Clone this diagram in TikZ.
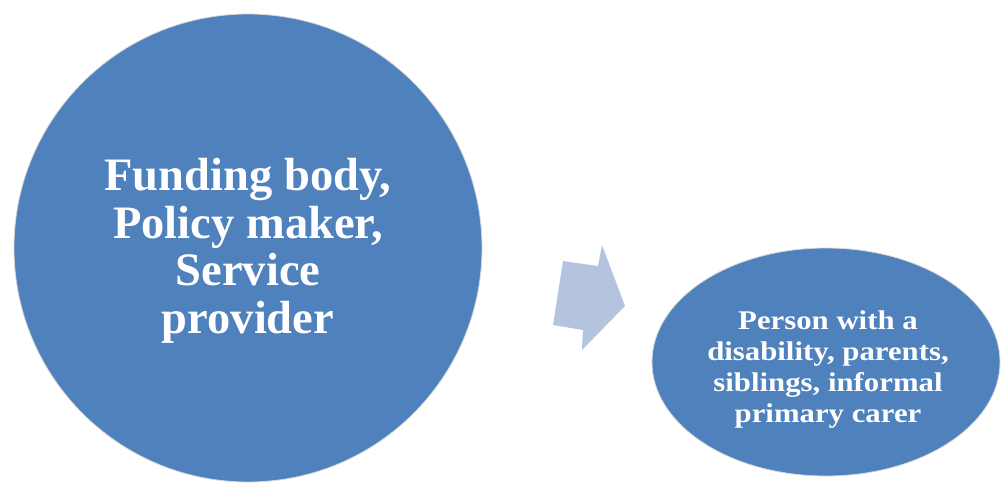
\documentclass[tikz,border=0pt]{standalone}
\usepackage{fontspec}
\setmainfont{Liberation Serif}
\usetikzlibrary{shapes.geometric}
\definecolor{bluefill}{HTML}{4F81BD}
\definecolor{arrowfill}{HTML}{B4C4DF}
\definecolor{rimgray}{HTML}{D8D8D8}
\tikzset{
  bubble/.style={fill=bluefill, draw=rimgray, line width=0.8pt, inner sep=0pt},
  bubbletext/.style={text=white, align=center, inner sep=0pt},
  blockarrow/.style={fill=arrowfill, draw=none}
}
\begin{document}
\begin{tikzpicture}[x=1pt,y=-1pt]
\useasboundingbox (0,0) rectangle (1001,482);
\node[bubble, circle, minimum size=468pt] (src) at (248,248) {};
\node[bubbletext, font=\bfseries\fontsize{46.5}{47.5}\selectfont] (srctext) at (248,251)
  {Funding body,\\ Policy maker,\\ Service\\ provider};
\node[bubble, ellipse, minimum width=348pt, minimum height=228pt] (dst) at (826,362) {};
\node[bubbletext] (dsttext) at (828,370)
  {\scalebox{1.14}[1]{\bfseries\fontsize{27}{31}\selectfont\begin{tabular}{@{}c@{}}Person with a\\ disability, parents,\\ siblings, informal\\ primary carer\end{tabular}}};
\coordinate (a1) at (602,245);
\coordinate (a2) at (598,266);
\coordinate (a3) at (563,261);
\coordinate (a4) at (553,325);
\coordinate (a5) at (583,330);
\coordinate (a6) at (582,350);
\coordinate (a7) at (625,306);
\fill[blockarrow] (a1) -- (a2) -- (a3) -- (a4) -- (a5) -- (a6) -- (a7) -- cycle;
\end{tikzpicture}
\end{document}
